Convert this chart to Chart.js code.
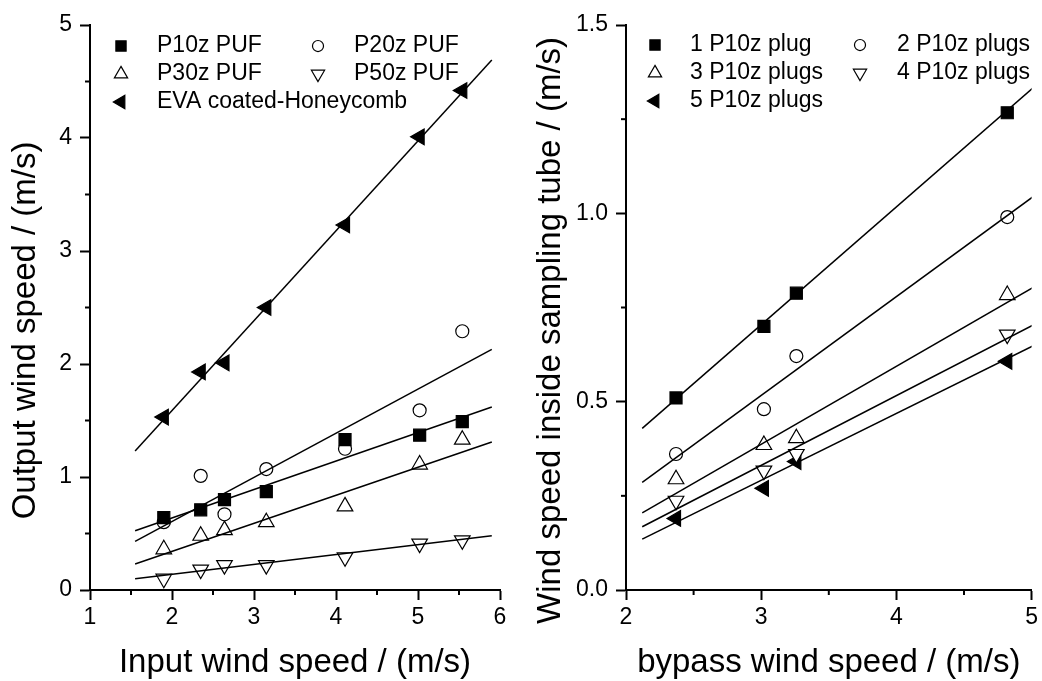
<!DOCTYPE html>
<html>
<head>
<meta charset="utf-8">
<script src="https://cdn.jsdelivr.net/npm/chart.js@4.4.1/dist/chart.umd.min.js"></script>
<style>
  html, body { margin: 0; padding: 0; background: #fff; overflow: hidden; }
  #left { position: absolute; left: 0; top: 0; }
  #right { position: absolute; left: 520px; top: 0; }
</style>
</head>
<body>
<canvas id="left" width="520" height="681"></canvas>
<canvas id="right" width="522" height="681"></canvas>
<script>
// ---- left panel data ----
const inputSpeed = [1.90, 2.35, 2.64, 3.15, 4.11, 5.02, 5.54];
const p10zPuf = [0.64, 0.71, 0.80, 0.87, 1.33, 1.37, 1.49];
const p20zPuf = [0.60, 1.01, 0.67, 1.07, 1.25, 1.59, 2.29];
const p30zPuf = [0.36, 0.48, 0.53, 0.60, 0.74, 1.11, 1.33];
const p50zPuf = [0.10, 0.18, 0.22, 0.22, 0.29, 0.41, 0.44];
const evaHoneycomb = [1.53, 1.93, 2.01, 2.50, 3.23, 4.01, 4.42];
const leftNames = ["P10z PUF", "P20z PUF", "P30z PUF", "P50z PUF", "EVA coated-Honeycomb"];
// linear fits, as read at the ends of the drawn lines
const leftFitX = [1.55, 5.90];
const leftFitY = [[0.525, 1.62], [0.43, 2.13], [0.23, 1.31], [0.10, 0.48], [1.23, 4.69]];

// ---- right panel data ----
const bypassSpeed = [2.37, 3.02, 3.26, 4.82];
const plug1 = [0.510, 0.700, 0.788, 1.267];
const plug2 = [0.361, 0.480, 0.621, 0.990];
const plug3 = [0.294, 0.385, 0.403, 0.783];
const plug4 = [0.237, 0.317, 0.361, 0.678];
const plug5 = [0.190, 0.270, 0.341, 0.607];
const rightNames = ["1 P10z plug", "2 P10z plugs", "3 P10z plugs", "4 P10z plugs", "5 P10z plugs"];
const rightFitX = [2.12, 5.01];
const rightFitY = [[0.429, 1.333], [0.286, 1.044], [0.205, 0.803], [0.168, 0.703], [0.135, 0.648]];

// marker look for series 1..5 (same in both panels)
const markers = [
  { style: "rect", rot: 0, fill: "#000", r: 8.5 },
  { style: "circle", rot: 0, fill: "#fff", r: 6.5 },
  { style: "triangle", rot: 0, fill: "#fff", r: 9 },
  { style: "triangle", rot: 180, fill: "#fff", r: 9 },
  { style: "triangle", rot: -90, fill: "#000", r: 9 }
];

const FONT = "'Liberation Sans', Arial, sans-serif";
const NB = "\u00A0";

function buildDatasets(xs, series, names, fitX, fitY) {
  const sets = [];
  series.forEach((ys, i) => {
    const m = markers[i];
    sets.push({
      type: "scatter",
      label: names[i],
      data: xs.map((x, j) => ({ x: x, y: ys[j] })),
      pointStyle: m.style,
      pointRotation: m.rot,
      pointRadius: m.r,
      pointBackgroundColor: m.fill,
      pointBorderColor: "#000",
      pointBorderWidth: 1.2,
      order: 1
    });
  });
  fitY.forEach(([y0, y1]) => {
    sets.push({
      type: "line",
      label: "",
      data: [{ x: fitX[0], y: y0 }, { x: fitX[1], y: y1 }],
      borderColor: "#000",
      borderWidth: 1.5,
      pointRadius: 0,
      fill: false,
      order: 0
    });
  });
  return sets;
}

// short ticks halfway between the labelled ones
const minorTicks = {
  id: "minorTicks",
  afterDraw(chart) {
    const ctx = chart.ctx;
    ctx.save();
    ctx.strokeStyle = "#000";
    ctx.lineWidth = 2;
    ["x", "y"].forEach(id => {
      const s = chart.scales[id];
      const t = s.ticks;
      for (let i = 0; i < t.length - 1; i++) {
        const p = s.getPixelForValue((t[i].value + t[i + 1].value) / 2);
        ctx.beginPath();
        if (id === "x") { ctx.moveTo(p, s.top); ctx.lineTo(p, s.top + 5); }
        else { ctx.moveTo(s.right, p); ctx.lineTo(s.right - 5, p); }
        ctx.stroke();
      }
    });
    ctx.restore();
  }
};

// two-column legend inside the plot
const insetLegend = {
  id: "insetLegend",
  afterDraw(chart, args, opts) {
    const ctx = chart.ctx;
    const sets = chart.data.datasets.filter(d => d.type === "scatter");
    ctx.save();
    ctx.font = "23px " + FONT;
    ctx.textBaseline = "middle";
    ctx.textAlign = "left";
    sets.forEach((d, i) => {
      const col = i % 2, row = Math.floor(i / 2);
      const y = opts.rows[row];
      ctx.fillStyle = d.pointBackgroundColor;
      ctx.strokeStyle = "#000";
      ctx.lineWidth = 1.2;
      Chart.helpers.drawPoint(ctx, {
        pointStyle: d.pointStyle,
        rotation: d.pointRotation,
        radius: d.pointRadius * 0.85,
        borderWidth: 1.2
      }, opts.markX[col], y);
      ctx.fillStyle = "#000";
      ctx.fillText(d.label, opts.textX[col], y);
    });
    ctx.restore();
  }
};

function axis(min, max, step, title, titlePad, fit, fmt) {
  return {
    type: "linear",
    min: min,
    max: max,
    ticks: {
      stepSize: step,
      autoSkip: false,
      color: "#000",
      font: { family: FONT, size: 23 },
      padding: fit.w ? 8 : 4,
      callback: fmt || (v => String(v))
    },
    grid: { drawOnChartArea: false, drawTicks: true, tickLength: 10, tickWidth: 2, tickColor: "#000" },
    border: { display: true, color: "#000", width: 2 },
    title: { display: true, text: title, color: "#000", font: { family: FONT, size: 33 }, padding: titlePad },
    afterFit(s) {
      if (fit.w) s.width = fit.w;
      if (fit.h) s.height = fit.h;
    }
  };
}

function makeChart(id, datasets, xAxis, yAxis, padRight, legend) {
  return new Chart(document.getElementById(id), {
    type: "scatter",
    data: { datasets: datasets },
    options: {
      responsive: false,
      animation: false,
      events: [],
      layout: { padding: { top: 25, right: padRight, left: 0, bottom: 0 } },
      scales: { x: xAxis, y: yAxis },
      plugins: {
        legend: { display: false },
        tooltip: { enabled: false },
        insetLegend: legend
      }
    },
    plugins: [minorTicks, insetLegend]
  });
}

makeChart("left",
  buildDatasets(inputSpeed, [p10zPuf, p20zPuf, p30zPuf, p50zPuf, evaHoneycomb], leftNames, leftFitX, leftFitY),
  axis(1, 6, 1, "Input wind speed / (m/s)", { top: 0, bottom: -2 }, { h: 91 }),
  axis(0, 5, 1, "Output wind speed / (m/s)" + NB.repeat(5), { top: 6, bottom: 0 }, { w: 90 }),
  20,
  { markX: [121, 318], textX: [157, 354], rows: [46, 74, 102] }
);

makeChart("right",
  buildDatasets(bypassSpeed, [plug1, plug2, plug3, plug4, plug5], rightNames, rightFitX, rightFitY),
  axis(2, 5, 1, "bypass wind speed / (m/s)", { top: 0, bottom: -2 }, { h: 91 }),
  axis(0, 1.5, 0.5, "Wind speed inside sampling tube / (m/s)" + NB.repeat(5), { top: 11, bottom: 0 }, { w: 106 }, v => v.toFixed(1)),
  8,
  { markX: [135, 340], textX: [170, 377], rows: [45, 73, 101] }
);
</script>
</body>
</html>
